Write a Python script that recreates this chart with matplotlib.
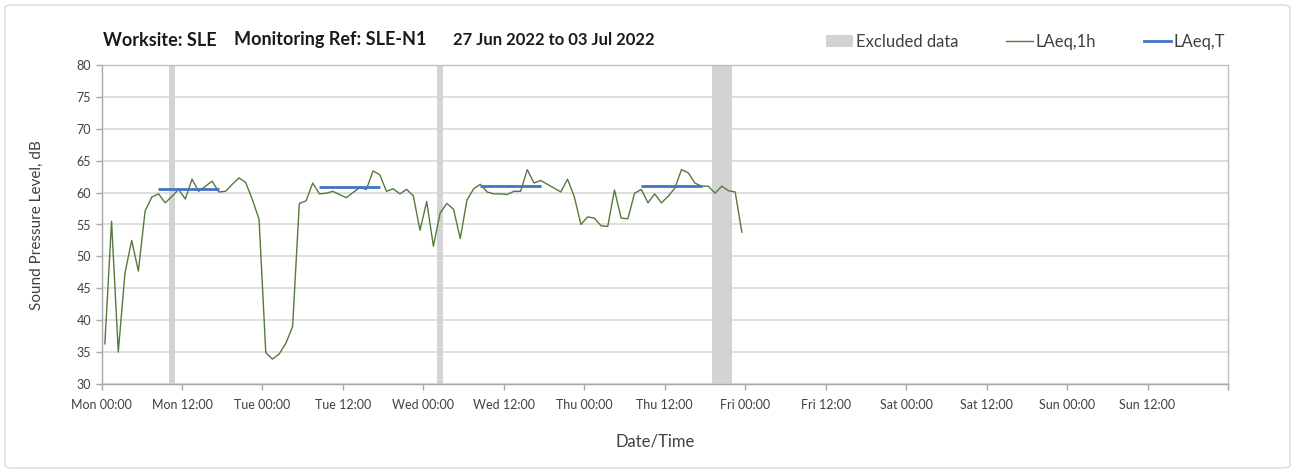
import matplotlib
matplotlib.use("Agg")
import matplotlib.pyplot as plt
from matplotlib.patches import FancyBboxPatch, Patch
from matplotlib.lines import Line2D

plt.rcParams['font.family'] = ['Lato', 'DejaVu Sans']

# ---- data ----
hours = [h + 0.5 for h in range(96)]
laeq_1h = [
    36.3, 55.5, 35.0, 47.4, 52.5, 47.7, 57.1, 59.3, 59.8, 58.4, 59.4, 60.5,
    59.0, 62.1, 60.2, 61.0, 61.8, 60.1, 60.2, 61.3, 62.3, 61.6, 58.9, 55.8,
    34.9, 33.9, 34.7, 36.4, 39.0, 58.3, 58.7, 61.5, 59.8, 59.9, 60.2, 59.7,
    59.2, 60.0, 60.8, 60.5, 63.4, 62.8, 60.2, 60.6, 59.8, 60.5, 59.5, 54.1,
    58.6, 51.6, 56.8, 58.3, 57.4, 52.8, 58.8, 60.6, 61.3, 60.1, 59.8, 59.8,
    59.7, 60.2, 60.2, 63.6, 61.5, 61.9, 61.3, 60.7, 60.1, 62.1, 59.4, 55.0,
    56.2, 56.0, 54.8, 54.7, 60.4, 56.0, 55.9, 59.9, 60.5, 58.4, 59.8, 58.4,
    59.4, 60.7, 63.6, 63.1, 61.5, 61.0, 61.0, 59.9, 61.0, 60.3, 60.1, 53.8,
]
laeq_t_start = [8.5, 32.5, 56.5, 80.5]
laeq_t_end = [17.5, 41.5, 65.5, 89.5]
laeq_t_value = [60.5, 60.9, 61.0, 61.0]
excluded_start = [10, 50, 91]
excluded_end = [11, 51, 94]
tick_hours = list(range(0, 169, 12))
tick_labels = ['Mon 00:00', 'Mon 12:00', 'Tue 00:00', 'Tue 12:00', 'Wed 00:00',
               'Wed 12:00', 'Thu 00:00', 'Thu 12:00', 'Fri 00:00', 'Fri 12:00',
               'Sat 00:00', 'Sat 12:00', 'Sun 00:00', 'Sun 12:00', '']

W, H = 1295, 473
fig = plt.figure(figsize=(W / 100, H / 100), dpi=100)
fig.patch.set_facecolor('white')

# outer border
border = FancyBboxPatch((5 / W, 5 / H), 1 - 10 / W, 1 - 10 / H,
                        boxstyle="round,pad=0,rounding_size=0.006",
                        transform=fig.transFigure, facecolor='none',
                        edgecolor='#d9d9d9', linewidth=1.0)
fig.patches.append(border)

left, right, top, bottom = 101.5, 1228, 65, 384
ax = fig.add_axes([left / W, 1 - bottom / H, (right - left) / W, (bottom - top) / H])

grey_txt = '#404040'
band_color = '#d3d3d3'
for s, e in zip(excluded_start, excluded_end):
    ax.axvspan(s, e, color=band_color, lw=0, zorder=1)

green = '#557a3a'
blue = '#4472c4'
ax.plot(hours, laeq_1h, color=green, lw=1.0, zorder=3)
for s, e, v in zip(laeq_t_start, laeq_t_end, laeq_t_value):
    ax.plot([s, e], [v, v], color=blue, lw=2.0, zorder=4, solid_capstyle='butt')

ax.set_xlim(0, 168)
ax.set_ylim(30, 80)
ax.set_yticks(range(30, 81, 5))
ax.set_xticks(tick_hours)
ax.set_xticklabels(tick_labels)
ax.set_xticks(range(24, 168, 24), minor=True)

ax.grid(axis='y', color='#d9d9d9', lw=1.2, zorder=0)
ax.grid(axis='x', which='minor', color='#e4e4e4', lw=1.0, zorder=0)
ax.grid(axis='x', which='major', visible=False)
ax.set_axisbelow(True)

ax.tick_params(axis='both', which='major', direction='out', length=4,
               width=1, color='#a6a6a6', labelsize=9, labelcolor=grey_txt)
ax.tick_params(axis='x', which='minor', length=0)
ax.tick_params(axis='x', pad=7)
for side in ['left', 'bottom']:
    ax.spines[side].set_color('#a6a6a6')
    ax.spines[side].set_linewidth(1.0)
for side in ['top', 'right']:
    ax.spines[side].set_color('#bfbfbf')
    ax.spines[side].set_linewidth(1.0)

fig.text(37 / W, 1 - 225 / H, 'Sound Pressure Level, dB', fontsize=11,
         color=grey_txt, rotation=90, ha='center', va='center')
fig.text(655 / W, 1 - 441 / H, 'Date/Time', fontsize=12, color=grey_txt,
         ha='center', va='center')

# title pieces
ty = 1 - 40 / H
fig.text(103 / W, ty, 'Worksite: SLE', fontsize=13, fontweight='bold', color='#1a1a1a', va='center')
fig.text(234 / W, ty, 'Monitoring Ref: SLE-N1', fontsize=13, fontweight='bold', color='#1a1a1a', va='center')
fig.text(453 / W, ty, '27 Jun 2022 to 03 Jul 2022', fontsize=12, fontweight='bold', color='#1a1a1a', va='center')

handles = [Patch(facecolor=band_color, edgecolor='none'),
           Line2D([], [], color=green, lw=1.0),
           Line2D([], [], color=blue, lw=2.0)]
fig.legend(handles, ['Excluded data', 'LAeq,1h', 'LAeq,T'],
           loc='center right', bbox_to_anchor=(1240 / W, 1 - 42 / H),
           ncol=3, frameon=False, fontsize=12, handlelength=1.6,
           handletextpad=0.15, columnspacing=2.9, labelcolor=grey_txt)

fig.savefig('out.png', dpi=100)
